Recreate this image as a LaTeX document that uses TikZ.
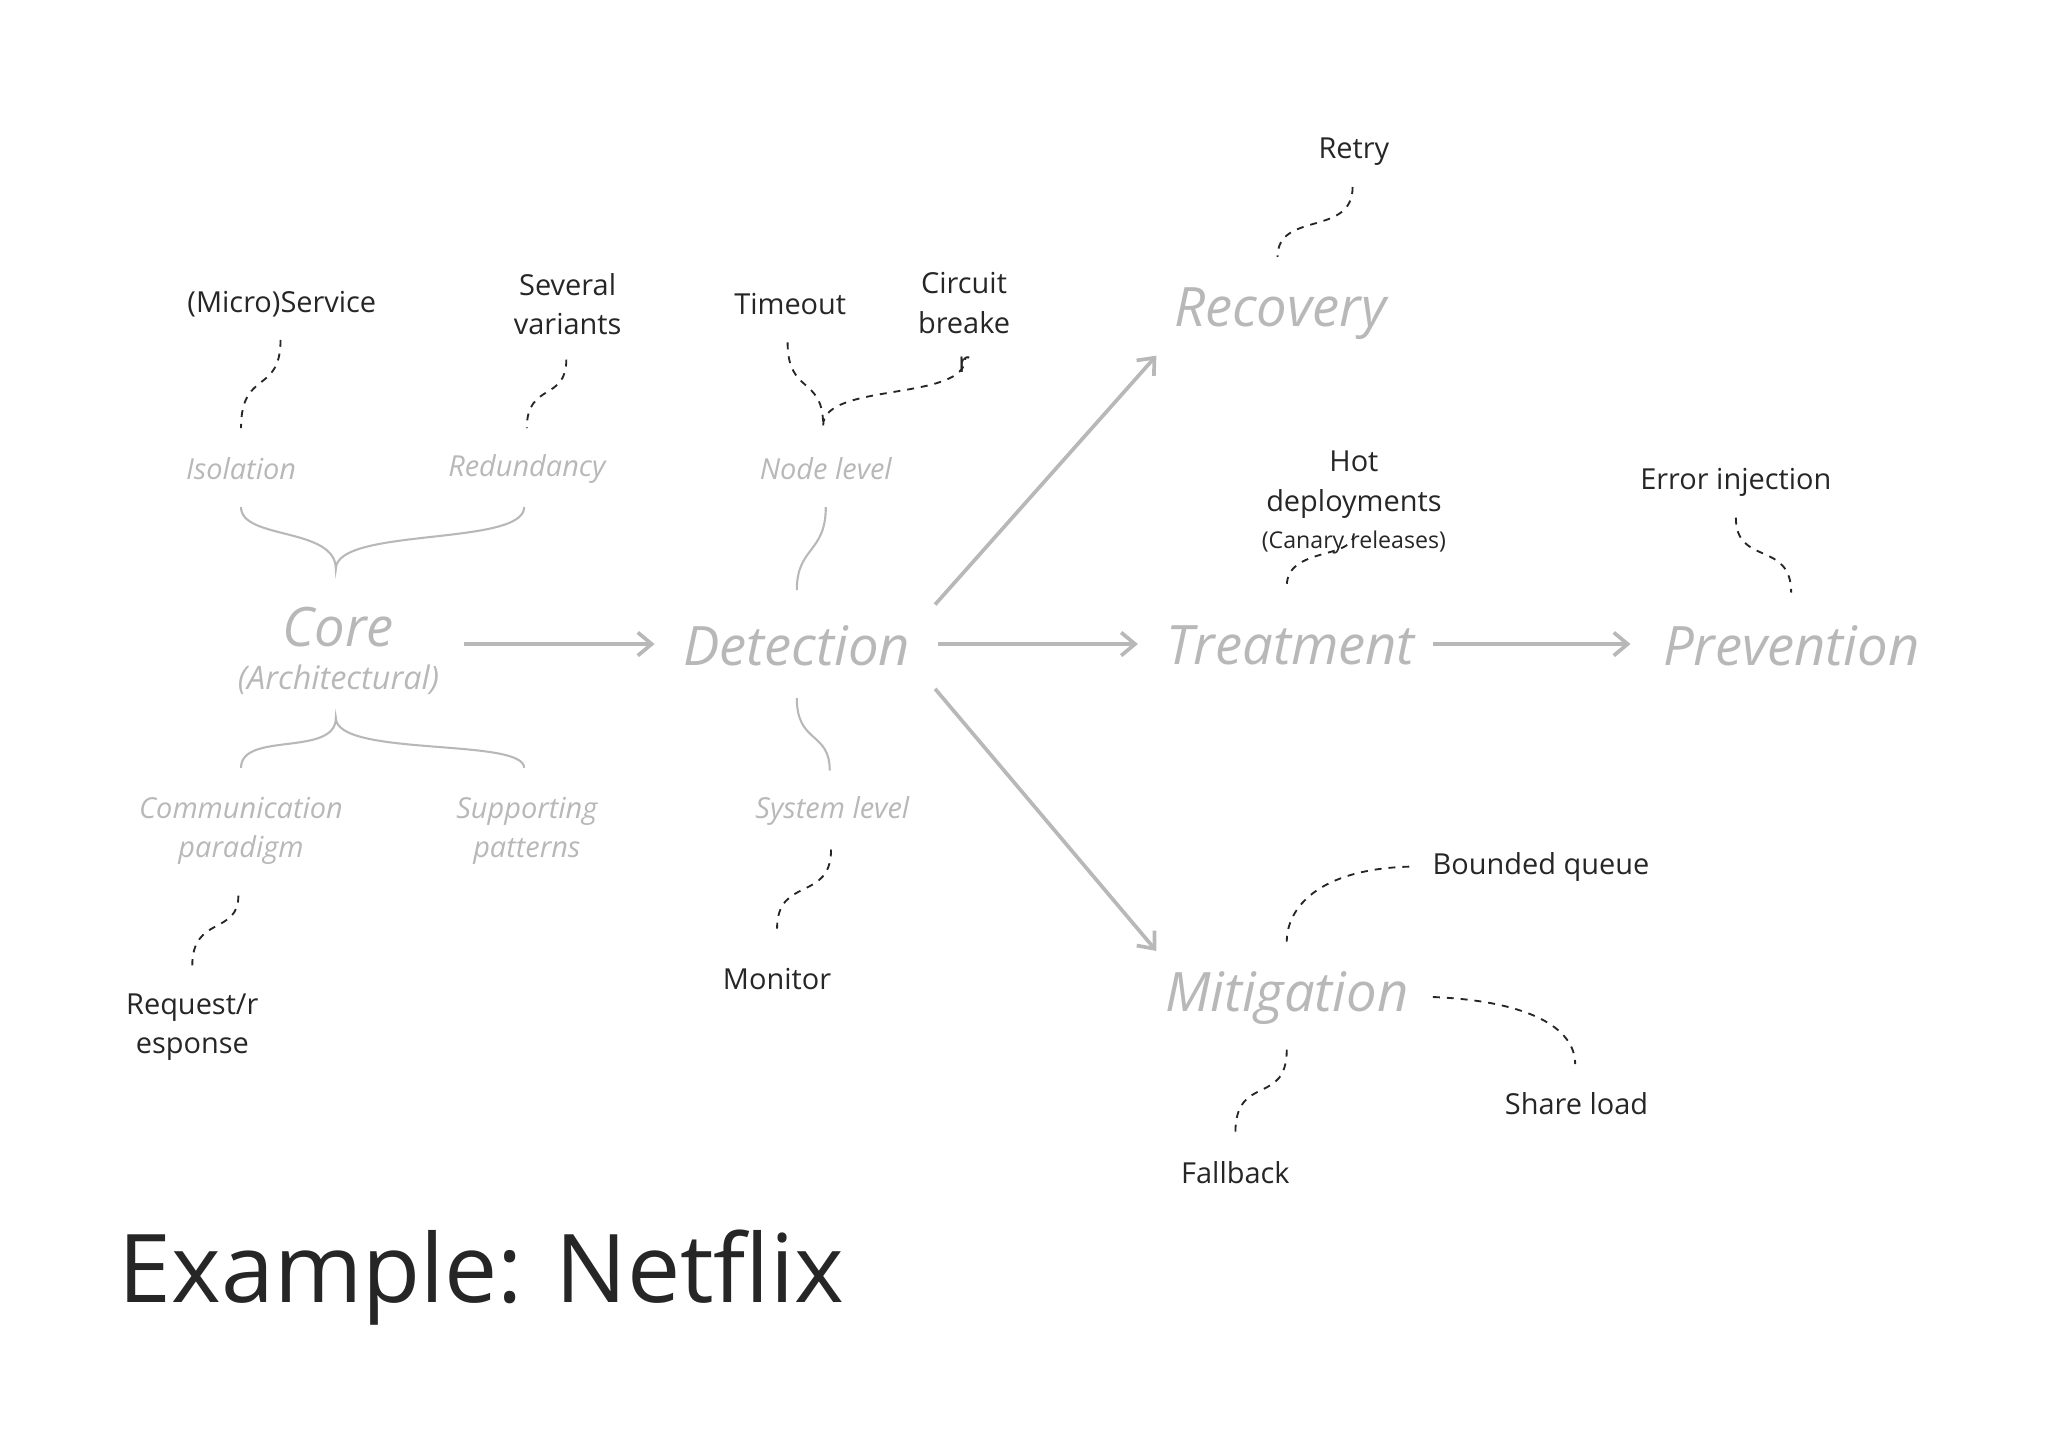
\documentclass[tikz,border=0pt]{standalone}
\usepackage{fontspec}
\setmainfont{Open Sans}
\usetikzlibrary{arrows.meta}
\definecolor{lg}{gray}{0.72}
\definecolor{tx}{gray}{0.15}
\tikzset{
 big/.style={font=\fontsize{23.5}{28}\selectfont\itshape, text=lg},
 sub/.style={font=\fontsize{12.5}{17}\selectfont\itshape, text=lg, align=center},
 lab/.style={font=\fontsize{12.5}{17}\selectfont, text=tx, align=center},
 flow/.style={draw=lg, line width=1.6pt, -{Straight Barb[length=6pt,width=10pt]}},
 thin/.style={draw=lg, line width=0.9pt},
 dashline/.style={draw=tx, dashed, line width=0.8pt}
}
\begin{document}
\begin{tikzpicture}[x=0.02cm,y=-0.02cm]
\useasboundingbox (0,0) rectangle (1555,1100);
\node[lab] (ms) at (214,231) {(Micro)Service};
\node[lab] (sv) at (431,231) {Several\\variants};
\node[lab] (to) at (600,231) {Timeout};
\node[lab] (cb) at (732,245) {Circuit\\breake\\r};
\node[big] (rec) at (972,238) {Recovery};
\node[lab] (retry) at (1028,115) {Retry};
\node[sub] (iso) at (183,356) {Isolation};
\node[sub] (red) at (400,356) {Redundancy};
\node[sub] (nl) at (627,356) {Node level};
\node[lab] (hot) at (1028,368) {Hot\\deployments};
\node[lab,font=\fontsize{10}{12}\selectfont] (can) at (1028,412) {(Canary releases)};
\node[lab] (ei) at (1318,366) {Error injection};
\node[big] (core) at (257,476) {Core};
\node[sub,font=\fontsize{14}{17}\selectfont\itshape] (arch) at (257,516) {(Architectural)};
\node[big] (det) at (605,490) {Detection};
\node[big] (tre) at (980,490) {Treatment};
\node[big] (pre) at (1360,490) {Prevention};
\node[sub] (com) at (183,631) {Communication\\paradigm};
\node[sub] (sup) at (400,631) {Supporting\\patterns};
\node[sub] (sl) at (632,616) {System level};
\node[lab] (bq) at (1170,658) {Bounded queue};
\node[lab] (mon) at (590,743) {Monitor};
\node[big] (mit) at (977,758) {Mitigation};
\node[lab] (rr) at (146,780) {Request/r\\esponse};
\node[lab] (sh) at (1197,838) {Share load};
\node[lab] (fb) at (938,890) {Fallback};
\node[font=\fontsize{41}{46}\selectfont, text=tx, anchor=west] (ex) at (84,970) {Example: Netflix};
% flow arrows
\draw[flow] (352,489) -- (497,489);
\draw[flow] (712,489) -- (864,489);
\draw[flow] (1088,489) -- (1238,489);
\draw[flow] (710,459) -- (878,270);
\draw[flow] (710,523) -- (878,722);
% braces
\draw[thin] (183,385) .. controls (183,410) and (255,400) .. (255,432) .. controls (255,400) and (398,415) .. (398,385);
\draw[thin] (183,583) .. controls (183,555) and (255,575) .. (255,545) .. controls (255,575) and (398,560) .. (398,583);
\draw[thin] (627,385) .. controls (627,420) and (605,415) .. (605,448);
\draw[thin] (605,530) .. controls (605,565) and (630,555) .. (630,585);
% dashed
\coordinate (a1) at (213,258); \coordinate (b1) at (183,325);
\draw[dashline] (a1) .. controls (213,300) and (183,280) .. (b1);
\coordinate (a2) at (430,273); \coordinate (b2) at (400,325);
\draw[dashline] (a2) .. controls (430,305) and (400,290) .. (b2);
\coordinate (a3) at (598,260); \coordinate (b3) at (625,323);
\draw[dashline] (a3) .. controls (598,300) and (625,285) .. (b3);
\coordinate (a4) at (733,272);
\draw[dashline] (b3) .. controls (625,290) and (733,305) .. (a4);
\coordinate (a5) at (1027,142); \coordinate (b5) at (970,195);
\draw[dashline] (a5) .. controls (1027,180) and (970,160) .. (b5);
\coordinate (a6) at (1028,405); \coordinate (b6) at (977,445);
\draw[dashline] (a6) .. controls (1028,425) and (977,415) .. (b6);
\coordinate (a7) at (1318,393); \coordinate (b7) at (1360,450);
\draw[dashline] (a7) .. controls (1318,430) and (1360,410) .. (b7);
\coordinate (a8) at (181,680); \coordinate (b8) at (146,733);
\draw[dashline] (a8) .. controls (181,710) and (146,695) .. (b8);
\coordinate (a9) at (631,645); \coordinate (b9) at (590,705);
\draw[dashline] (a9) .. controls (631,685) and (590,665) .. (b9);
\coordinate (a10) at (1070,658); \coordinate (b10) at (977,715);
\draw[dashline] (a10) .. controls (1000,660) and (977,690) .. (b10);
\coordinate (a11) at (1088,757); \coordinate (b11) at (1196,808);
\draw[dashline] (a11) .. controls (1160,760) and (1196,780) .. (b11);
\coordinate (a12) at (977,797); \coordinate (b12) at (938,860);
\draw[dashline] (a12) .. controls (977,840) and (938,815) .. (b12);
\end{tikzpicture}
\end{document}
